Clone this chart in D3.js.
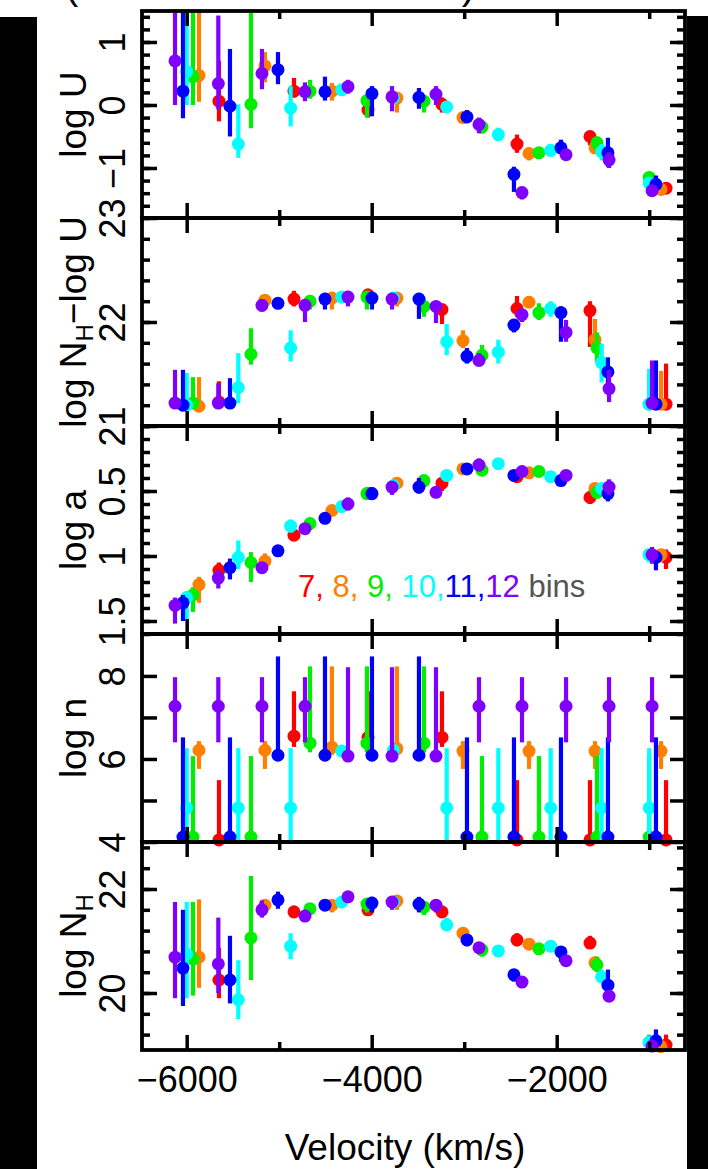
<!DOCTYPE html>
<html><head><meta charset="utf-8">
<script src="https://cdn.jsdelivr.net/npm/d3@7"></script>
<style>
body{margin:0;background:#fff;overflow:hidden}
svg{display:block}
text{font-family:"Liberation Sans",Arial,Helvetica,sans-serif}
</style>
</head><body>
<svg id="c" width="708" height="1169"></svg>
<script>
// ---------------- DATA ----------------
const binCounts = [7, 8, 9, 10, 11, 12];
const legendLabels = ["7,", "8,", "9,", "10,", "11,", "12"];
const xTickValues = [-6000, -4000, -2000];
const xMinorTickValues = [-5000, -3000, -1000];
const xTickLabels = ["\u22126000", "\u22124000", "\u22122000"];

// bin-centre velocities (km/s) for each number of bins
const vel = [
  [-5651, -4840, -4040, -3240, -2429, -1640, -818],
  [-5867, -5154, -4430, -3727, -3013, -2299, -1586, -872],
  [-5932, -5305, -4667, -4051, -3435, -2808, -2192, -1565, -1000],
  [-6000, -5442, -4876, -4324, -3766, -3189, -2631, -2065, -1514, -1000],
  [-6040, -5532, -5013, -4505, -3997, -3489, -2970, -2462, -1954, -1446, -927],
  [-6126, -5658, -5186, -4721, -4256, -3780, -3305, -2840, -2375, -1899, -1434, -969]
];

// [value, lower, upper]
const logU = [
  [[0.06,-0.26,0.70],[0.22,0.12,0.43],[-0.08,-0.2,0.02],[0.01,-0.12,0.12],[-0.62,-0.76,-0.47],[-0.50,-0.64,-0.43],[-1.32,-1.4,-1.25]],
  [[0.47,0.05,2.0],[0.62,0.36,0.84],[0.22,0.07,0.35],[0.11,-0.12,0.2],[-0.20,-0.28,-0.12],[-0.77,-0.88,-0.68],[-0.68,-0.78,-0.58],[-1.34,-1.4,-1.28]],
  [[0.45,0.0,2.0],[0.01,-0.37,2.0],[0.22,0.10,0.40],[0.07,-0.2,0.14],[0.06,-0.12,0.16],[-0.35,-0.45,-0.25],[-0.76,-0.85,-0.67],[-0.60,-0.75,-0.5],[-1.15,-1.25,-1.07]],
  [[0.53,0.0,2.0],[-0.62,-0.84,0.01],[-0.05,-0.34,0.30],[0.24,0.15,0.33],[0.11,0.02,0.2],[-0.03,-0.12,0.06],[-0.47,-0.57,-0.36],[-0.72,-0.82,-0.62],[-0.74,-0.88,-0.62],[-1.24,-1.32,-1.17]],
  [[0.22,-0.21,2.0],[-0.02,-0.5,0.89],[0.56,0.33,0.84],[0.21,0.07,0.45],[0.18,-0.18,0.3],[0.12,-0.06,0.27],[-0.19,-0.27,-0.08],[-1.10,-1.38,-0.98],[-0.68,-0.78,-0.55],[-0.76,-0.98,-0.52],[-1.26,-1.35,-1.12]],
  [[0.70,0.0,2.0],[0.34,-0.07,1.42],[0.50,0.25,0.89],[0.21,0.06,0.36],[0.29,0.18,0.40],[0.13,-0.1,0.3],[0.17,0.0,0.3],[-0.31,-0.45,-0.2],[-1.39,-1.5,-1.3],[-0.79,-0.85,-0.72],[-0.87,-1.0,-0.75],[-1.36,-1.45,-1.28]]
];

const logNHminusU = [
  [[21.23,21.2,21.43],[22.22,22.15,22.3],[22.26,22.2,22.32],[22.12,21.98,22.17],[22.13,22.05,22.25],[22.11,21.76,22.2],[21.21,21.2,21.6]],
  [[21.19,21.18,21.47],[22.21,22.15,22.26],[22.23,22.12,22.27],[22.23,22.15,22.27],[21.82,21.75,21.92],[22.19,22.14,22.25],[21.83,21.75,22.03],[21.21,21.2,21.53]],
  [[21.22,21.2,21.47],[21.69,21.59,21.94],[22.2,22.12,22.26],[22.24,22.12,22.3],[22.15,22.05,22.22],[21.68,21.62,21.78],[22.09,22.02,22.18],[21.75,21.62,21.9],[21.21,21.2,21.5]],
  [[21.2,21.18,21.51],[21.37,21.22,21.70],[21.75,21.62,21.92],[22.24,22.18,22.28],[22.23,22.17,22.28],[21.81,21.68,21.98],[21.71,21.6,21.83],[22.13,22.05,22.2],[21.61,21.42,21.79],[21.21,21.2,21.55]],
  [[21.2,21.18,21.54],[21.22,21.2,21.46],[22.18,22.14,22.23],[22.22,22.12,22.28],[22.23,22.12,22.28],[22.22,22.03,22.28],[21.67,21.6,21.75],[21.97,21.9,22.03],[22.09,21.81,22.15],[21.52,21.4,21.66],[21.21,21.2,21.63]],
  [[21.22,21.2,21.54],[21.22,21.2,21.41],[22.16,22.1,22.2],[22.16,22.0,22.2],[22.24,22.15,22.3],[22.22,22.12,22.27],[22.15,21.99,22.2],[21.63,21.58,21.7],[22.07,22.0,22.12],[21.9,21.81,22.02],[21.36,21.23,21.54],[21.22,21.2,21.63]]
];

const logA = [
  [[1.11,1.05,1.16],[0.84,0.8,0.88],[0.52,0.48,0.56],[0.44,0.4,0.5],[0.39,0.35,0.43],[0.55,0.5,0.6],[1.01,0.95,1.1]],
  [[1.22,1.16,1.36],[1.04,0.98,1.1],[0.65,0.62,0.69],[0.44,0.41,0.48],[0.33,0.29,0.37],[0.36,0.33,0.4],[0.48,0.44,0.53],[0.99,0.95,1.05]],
  [[1.30,1.24,1.43],[1.05,0.97,1.2],[0.75,0.71,0.8],[0.52,0.48,0.56],[0.42,0.38,0.47],[0.34,0.3,0.38],[0.35,0.32,0.39],[0.51,0.47,0.56],[0.99,0.95,1.04]],
  [[1.32,1.27,1.5],[1.01,0.88,1.1],[0.77,0.72,0.82],[0.62,0.58,0.66],[0.46,0.43,0.5],[0.38,0.34,0.43],[0.29,0.25,0.33],[0.39,0.36,0.43],[0.48,0.44,0.53],[0.99,0.95,1.05]],
  [[1.36,1.3,1.5],[1.09,1.02,1.18],[0.96,0.93,0.99],[0.71,0.68,0.74],[0.52,0.47,0.57],[0.47,0.4,0.52],[0.33,0.29,0.37],[0.38,0.35,0.41],[0.42,0.39,0.45],[0.52,0.46,0.58],[1.01,0.96,1.11]],
  [[1.38,1.32,1.52],[1.17,1.11,1.25],[1.09,1.05,1.13],[0.79,0.75,0.83],[0.60,0.55,0.65],[0.47,0.43,0.53],[0.51,0.48,0.55],[0.30,0.25,0.35],[0.35,0.31,0.39],[0.38,0.35,0.42],[0.47,0.41,0.53],[0.99,0.93,1.06]]
];

const logN = [
  [[4.05,4.0,5.49],[6.55,6.29,7.63],[6.52,6.29,7.63],[6.52,6.29,7.63],[4.05,4.0,5.49],[4.05,4.0,5.49],[4.05,4.0,5.49]],
  [[6.21,5.76,6.43],[6.21,5.76,6.43],[6.28,6.1,8.23],[6.25,6.1,8.23],[6.19,5.76,6.43],[6.19,5.76,6.43],[6.19,5.76,6.43],[6.19,5.76,6.43]],
  [[4.12,4.0,6.07],[4.12,4.0,6.07],[6.38,6.16,8.23],[6.38,6.16,8.23],[6.38,6.16,8.23],[4.12,4.0,6.07],[4.12,4.0,6.07],[4.12,4.0,6.07],[4.12,4.0,6.07]],
  [[4.82,4.0,6.26],[4.82,4.0,6.26],[4.82,4.0,6.26],[6.19,6.12,6.28],[6.21,6.12,6.28],[4.82,4.0,6.26],[4.82,4.0,6.26],[4.82,4.0,6.26],[4.82,4.0,6.26],[4.82,4.0,6.26]],
  [[4.12,4.0,6.52],[4.12,4.0,6.52],[6.09,6.0,8.47],[6.09,6.0,8.47],[6.09,6.0,8.47],[6.09,6.0,8.47],[4.12,4.0,6.52],[4.12,4.0,6.52],[4.12,4.0,6.52],[4.12,4.0,6.52],[4.12,4.0,6.52]],
  [[7.27,6.40,7.97],[7.27,6.40,7.97],[7.27,6.40,7.97],[7.27,6.40,7.97],[6.07,6.0,8.21],[6.07,6.0,8.21],[6.07,6.0,8.21],[7.27,6.40,7.97],[7.27,6.40,7.97],[7.27,6.40,7.97],[7.27,6.40,7.97],[7.27,6.40,7.97]]
];

const logNH = [
  [[20.25,19.9,20.87],[21.56,21.45,21.68],[21.6,21.5,21.7],[21.56,21.45,21.68],[21.02,20.9,21.15],[20.96,20.85,21.1],[19.0,18.95,19.2]],
  [[20.69,20.1,21.8],[21.69,21.55,21.8],[21.69,21.55,21.78],[21.77,21.6,21.85],[21.15,21.05,21.25],[20.94,20.85,21.05],[20.58,20.45,20.7],[18.97,18.92,19.1]],
  [[20.65,19.95,21.75],[21.06,20.25,22.25],[21.62,21.5,21.72],[21.71,21.55,21.8],[21.65,21.5,21.75],[20.83,20.7,20.95],[20.85,20.75,20.95],[20.54,20.4,20.7],[19.05,18.98,19.2]],
  [[20.75,19.9,21.75],[19.87,19.5,20.63],[20.9,20.65,21.15],[21.75,21.65,21.82],[21.75,21.65,21.82],[21.31,21.2,21.45],[20.81,20.7,20.92],[20.90,20.8,21.0],[20.31,20.2,20.45],[19.05,18.98,19.15]],
  [[20.48,19.75,21.6],[20.25,19.8,21.1],[21.79,21.62,21.95],[21.69,21.58,21.8],[21.73,21.55,21.85],[21.71,21.55,21.85],[21.02,20.9,21.12],[20.35,20.22,20.45],[20.79,20.6,20.9],[20.15,20.0,20.45],[19.08,18.95,19.3]],
  [[20.69,19.9,21.75],[20.56,20.0,21.45],[21.6,21.45,21.78],[21.48,21.38,21.6],[21.85,21.75,21.92],[21.75,21.6,21.85],[21.69,21.55,21.8],[20.87,20.78,20.95],[20.21,20.1,20.3],[20.62,20.52,20.72],[19.94,19.85,20.05],[18.98,18.95,19.1]]
];

// ---------------- STYLE / LAYOUT ----------------
const colors = ["#ff0000", "#ff8000", "#00ee00", "#00ffff", "#0000ff", "#8000ff"];
const L = 142, R = 685;
const panels = [
  {data: logU, top: 11, bottom: 218, domain: [-1.794, 1.492], major: [-1, 0, 1], minor: d3.range(-1.6, 1.41, 0.2), labels: ["\u22121", "0", "1"], title: "U"},
  {data: logNHminusU, top: 218, bottom: 426, domain: [21, 23], major: [21, 22, 23], minor: d3.range(21, 23.01, 0.2), labels: ["21", "22", "23"], title: "NU"},
  {data: logA, top: 426, bottom: 634, domain: [1.6, 0], major: [0.5, 1, 1.5], minor: d3.range(0, 1.61, 0.1), labels: ["0.5", "1", "1.5"], title: "a"},
  {data: logN, top: 634, bottom: 842, domain: [4, 9.01], major: [4, 5, 6, 7, 8], minor: [], labels: ["4", "", "6", "", "8"], title: "n"},
  {data: logNH, top: 842, bottom: 1050, domain: [18.904, 22.904], major: [20, 22], minor: d3.range(19.2, 22.81, 0.4), labels: ["20", "22"], title: "NH"}
];

const svg = d3.select("#c");
const x = d3.scaleLinear().domain([-6483, -613]).range([L, R]);

// partially visible heading at the very top (cut off by the page edge)
svg.append("text").attr("x", 270).attr("y", -1).attr("text-anchor", "middle")
  .attr("font-size", 40).attr("textLength", 410).attr("lengthAdjust", "spacing")
  .text("(NAL model fit results)");

const defs = svg.append("defs");

panels.forEach((p, pi) => {
  const y = d3.scaleLinear().domain(p.domain).range([p.bottom, p.top]);
  const g = svg.append("g");
  const cid = "clip" + pi;
  defs.append("clipPath").attr("id", cid).append("rect")
    .attr("x", L).attr("y", p.top).attr("width", R - L).attr("height", p.bottom - p.top);

  binCounts.forEach((b, si) => {
    const rows = p.data[si].map((r, i) => ({v: vel[si][i], val: r[0], lo: r[1], hi: r[2]}));
    const sg = g.append("g");
    sg.append("g").attr("clip-path", `url(#${cid})`)
      .selectAll("line").data(rows).join("line")
      .attr("x1", d => x(d.v)).attr("x2", d => x(d.v))
      .attr("y1", d => y(d.lo)).attr("y2", d => y(d.hi))
      .attr("stroke", colors[si]).attr("stroke-width", 4.2);
    sg.selectAll("circle").data(rows).join("circle")
      .attr("cx", d => x(d.v)).attr("cy", d => y(d.val)).attr("r", 6.5)
      .attr("fill", colors[si]);
  });

  // x ticks (inward) top and bottom
  const axes = g.append("g");
  const xa = (gen, size, vals, ty) => {
    const a = axes.append("g").attr("transform", `translate(0,${ty})`)
      .call(gen(x).tickValues(vals).tickSize(size).tickFormat(""));
    a.select(".domain").remove();
    return a;
  };
  xa(d3.axisTop, 15, xTickValues, p.bottom);
  xa(d3.axisTop, 8, xMinorTickValues, p.bottom);
  xa(d3.axisBottom, 15, xTickValues, p.top);
  xa(d3.axisBottom, 8, xMinorTickValues, p.top);

  // y ticks inward left and right
  const ya = (gen, size, vals, tx, fmt) => {
    const a = axes.append("g").attr("transform", `translate(${tx},0)`)
      .call(gen(y).tickValues(vals).tickSize(size).tickPadding(18).tickFormat(fmt || (() => "")));
    a.select(".domain").remove();
    return a;
  };
  const lab = ya(d3.axisLeft, -15, p.major, L, (d, i) => p.labels[i]);
  lab.selectAll(".tick text")
    .attr("transform", "rotate(-90)").attr("x", 0).attr("y", -17).attr("dy", 0)
    .attr("text-anchor", "middle").attr("font-size", 36).attr("fill", "#000");
  ya(d3.axisLeft, -8, p.minor, L);
  ya(d3.axisRight, -15, p.major, R);
  ya(d3.axisRight, -8, p.minor, R);
  axes.selectAll(".tick line").attr("stroke", "#000").attr("stroke-width", 3.5);
  axes.attr("font-family", null);

  // frame
  g.append("rect").attr("x", L).attr("y", p.top).attr("width", R - L).attr("height", p.bottom - p.top)
    .attr("fill", "none").attr("stroke", "#000").attr("stroke-width", 3.8);

  // y title
  const t = svg.append("text").attr("transform", `translate(86,${(p.top + p.bottom) / 2}) rotate(-90)`)
    .attr("text-anchor", "middle").attr("font-size", 37);
  if (p.title === "NU") {
    t.append("tspan").text("log N");
    t.append("tspan").attr("font-size", 24).attr("dy", 7).text("H");
    t.append("tspan").attr("dy", -7).text("\u2212log U");
  } else if (p.title === "NH") {
    t.append("tspan").text("log N");
    t.append("tspan").attr("font-size", 24).attr("dy", 7).text("H");
  } else {
    t.text("log " + p.title);
  }

  // bottom labels only on last panel
  if (pi === panels.length - 1) {
    const bl = svg.append("g").attr("transform", `translate(0,${p.bottom})`)
      .call(d3.axisBottom(x).tickValues(xTickValues).tickSize(0).tickPadding(42)
        .tickFormat((d, i) => xTickLabels[i]));
    bl.select(".domain").remove();
    bl.selectAll("text").attr("font-size", 36).attr("fill", "#000").attr("dy", 0)
      .attr("font-family", "Liberation Sans, Arial, sans-serif");
  }
});

// legend
const leg = svg.append("text").attr("x", 298).attr("y", 597).attr("font-size", 31);
legendLabels.forEach((s, i) => {
  leg.append("tspan").attr("fill", colors[i]).text(s + (i < 3 ? " " : ""));
});
leg.append("tspan").attr("fill", "#555").text(" bins");

// x title
svg.append("text").attr("x", 405).attr("y", 1160).attr("text-anchor", "middle")
  .attr("font-size", 37).text("Velocity (km/s)");

// black side bands of the scanned page
svg.append("rect").attr("x", 0).attr("y", 17).attr("width", 37).attr("height", 1169 - 17).attr("fill", "#000");
svg.append("rect").attr("x", 687).attr("y", 16).attr("width", 21).attr("height", 1169 - 16).attr("fill", "#000");
</script>
</body></html>
